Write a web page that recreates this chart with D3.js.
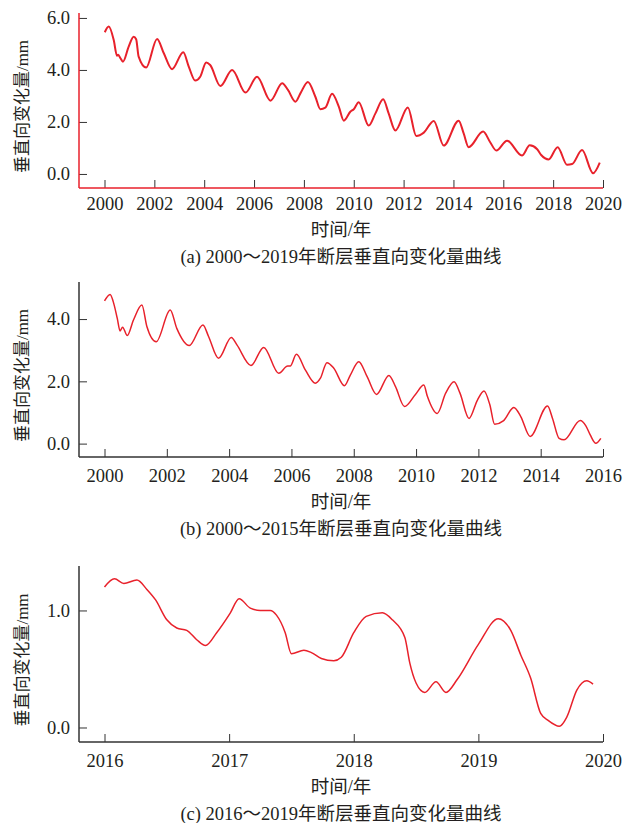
<!DOCTYPE html>
<html>
<head>
<meta charset="utf-8">
<script src="https://cdn.jsdelivr.net/npm/d3@7"></script>
<style>
  body { margin: 0; background: #fff; }
  svg text { font-family: "Liberation Serif", "Noto Sans CJK SC", serif; fill: #231f20; }
</style>
</head>
<body>
<div id="chart"></div>
<script>
// Panel (a) 2000-2019
const aYears = [2000.01, 2000.17, 2000.37, 2000.50, 2000.55, 2000.64, 2000.74, 2000.97, 2001.17, 2001.27, 2001.37, 2001.67,
  2002.11, 2002.38, 2002.71, 2003.16, 2003.38, 2003.64, 2003.84, 2004.08, 2004.24, 2004.65, 2005.12, 2005.66,
  2006.12, 2006.66, 2007.13, 2007.36, 2007.66, 2007.86, 2008.16, 2008.46, 2008.66, 2008.86, 2009.13, 2009.40,
  2009.60, 2009.87, 2010.00, 2010.20, 2010.60, 2010.87, 2011.18, 2011.40, 2011.67, 2012.17, 2012.51, 2012.81,
  2013.21, 2013.61, 2014.21, 2014.41, 2014.61, 2015.19, 2015.48, 2015.72, 2016.15, 2016.75, 2017.06, 2017.36,
  2017.52, 2017.82, 2018.18, 2018.56, 2018.76, 2019.16, 2019.60, 2019.87];
const aValues = [5.45, 5.67, 5.15, 4.55, 4.58, 4.45, 4.32, 4.90, 5.28, 5.18, 4.51, 4.09,
  5.19, 4.64, 4.03, 4.68, 4.13, 3.59, 3.74, 4.29, 4.19, 3.38, 4.00, 3.13,
  3.74, 2.82, 3.49, 3.23, 2.78, 3.10, 3.54, 2.97, 2.49, 2.55, 3.08, 2.59,
  2.05, 2.40, 2.49, 2.76, 1.86, 2.33, 2.87, 2.33, 1.67, 2.56, 1.46, 1.59,
  2.04, 1.09, 2.05, 1.56, 1.03, 1.63, 1.21, 0.90, 1.28, 0.71, 1.10, 0.95,
  0.73, 0.56, 1.03, 0.35, 0.38, 0.92, 0.03, 0.44];
const aXTicks = [2000, 2002, 2004, 2006, 2008, 2010, 2012, 2014, 2016, 2018, 2020];
const aYTicks = [0, 2, 4, 6];

// Panel (b) 2000-2015
const bYears = [2000.00, 2000.18, 2000.28, 2000.41, 2000.50, 2000.58, 2000.73, 2000.93, 2001.20, 2001.36, 2001.66,
  2002.11, 2002.32, 2002.72, 2003.16, 2003.34, 2003.66, 2004.07, 2004.25, 2004.70, 2005.11, 2005.59, 2005.88,
  2005.96, 2006.16, 2006.45, 2006.77, 2006.93, 2007.14, 2007.36, 2007.70, 2007.89, 2008.16, 2008.43, 2008.73,
  2009.13, 2009.34, 2009.63, 2009.98, 2010.25, 2010.36, 2010.68, 2010.95, 2011.22, 2011.41, 2011.70, 2011.97,
  2012.18, 2012.37, 2012.52, 2012.80, 2013.14, 2013.36, 2013.66, 2014.22, 2014.38, 2014.59, 2014.75, 2015.27,
  2015.45, 2015.59, 2015.77, 2015.93];
const bValues = [4.58, 4.79, 4.56, 4.02, 3.62, 3.74, 3.47, 3.97, 4.45, 3.76, 3.27,
  4.29, 3.70, 3.15, 3.81, 3.44, 2.74, 3.41, 3.17, 2.51, 3.09, 2.26, 2.49,
  2.49, 2.87, 2.36, 1.94, 2.10, 2.60, 2.42, 1.86, 2.20, 2.63, 2.15, 1.58,
  2.19, 1.83, 1.19, 1.58, 1.88, 1.53, 0.97, 1.62, 1.99, 1.62, 0.81, 1.40,
  1.69, 1.24, 0.62, 0.73, 1.16, 0.87, 0.23, 1.21, 0.81, 0.17, 0.12, 0.74,
  0.57, 0.28, 0.01, 0.17];
const bXTicks = [2000, 2002, 2004, 2006, 2008, 2010, 2012, 2014, 2016];
const bYTicks = [0, 2, 4];

// Panel (c) 2016-2019
const cYears = [2016.00, 2016.08, 2016.155, 2016.26, 2016.34, 2016.41, 2016.50, 2016.58, 2016.66, 2016.74, 2016.81,
  2016.90, 2017.01, 2017.08, 2017.17, 2017.25, 2017.33, 2017.38, 2017.45, 2017.50, 2017.60, 2017.66, 2017.74,
  2017.84, 2017.90, 2018.00, 2018.10, 2018.23, 2018.31, 2018.41, 2018.45, 2018.50, 2018.57, 2018.66, 2018.74,
  2018.83, 2019.00, 2019.16, 2019.26, 2019.34, 2019.42, 2019.50, 2019.56, 2019.65, 2019.71, 2019.79, 2019.87,
  2019.92];
const cValues = [1.20, 1.27, 1.23, 1.26, 1.18, 1.09, 0.92, 0.85, 0.83, 0.75, 0.70,
  0.81, 0.98, 1.10, 1.02, 1.00, 1.00, 0.96, 0.81, 0.63, 0.66, 0.64, 0.59,
  0.57, 0.60, 0.81, 0.95, 0.98, 0.92, 0.77, 0.55, 0.38, 0.30, 0.39, 0.30,
  0.41, 0.71, 0.93, 0.83, 0.62, 0.42, 0.12, 0.06, 0.01, 0.09, 0.32, 0.40,
  0.37];
const cXTicks = [2016, 2017, 2018, 2019, 2020];
const cYTicks = [0, 1];

const yLabel = "垂直向变化量/mm";
const xLabel = "时间/年";
const captions = ["(a) 2000～2019年断层垂直向变化量曲线", "(b) 2000～2015年断层垂直向变化量曲线", "(c) 2016～2019年断层垂直向变化量曲线"];

const lineColor = "#e8212b";
const fontSize = "18.5px";
const width = 627, height = 823;

const svg = d3.select("#chart").append("svg")
  .attr("width", width)
  .attr("height", height);

// Draw one panel.
function drawPanel(p) {
  const g = svg.append("g");

  const x = d3.scaleLinear().domain(p.xDomain).range([104.5, 603]);
  const y = d3.scaleLinear().domain(p.yDomain).range([p.bottom, p.top]);
  const left = 79;

  // Y axis ticks and labels
  const yAxis = g.append("g")
    .attr("transform", `translate(${left},0)`)
    .call(d3.axisLeft(y).tickValues(p.yTicks).tickFormat(d3.format(".1f"))
      .tickSizeInner(-8).tickSizeOuter(0).tickPadding(9));
  yAxis.select(".domain").remove();
  yAxis.selectAll(".tick line").attr("stroke", "#333");
  yAxis.selectAll("text").style("font-size", fontSize).attr("fill", "#231f20");

  // X axis ticks and labels
  const xAxis = g.append("g")
    .attr("transform", `translate(0,${p.bottom})`)
    .call(d3.axisBottom(x).tickValues(p.xTicks).tickFormat(d3.format("d"))
      .tickSizeInner(-8).tickSizeOuter(0).tickPadding(p.xPad));
  xAxis.select(".domain").remove();
  xAxis.selectAll(".tick line").attr("stroke", "#333");
  xAxis.selectAll("text").style("font-size", fontSize).attr("fill", "#231f20");

  // Axis lines
  g.append("line")
    .attr("x1", left).attr("x2", left)
    .attr("y1", p.top).attr("y2", p.bottom)
    .attr("stroke", p.axisColor).attr("stroke-width", 1.5);
  g.append("line")
    .attr("x1", left).attr("x2", x(p.xDomain[1]))
    .attr("y1", p.bottom).attr("y2", p.bottom)
    .attr("stroke", p.axisColor).attr("stroke-width", 1.5);

  // Data line
  const data = p.years.map((d, i) => ({ t: d, v: p.values[i] }));
  g.append("path")
    .datum(data)
    .attr("fill", "none")
    .attr("stroke", lineColor)
    .attr("stroke-width", p.lineWidth)
    .attr("stroke-linejoin", "round")
    .attr("d", d3.line().x(d => x(d.t)).y(d => y(d.v)).curve(d3.curveMonotoneX));

  // Y axis title
  g.append("text")
    .attr("transform", `translate(22,${(p.top + p.bottom) / 2 + 6}) rotate(-90)`)
    .attr("text-anchor", "middle")
    .attr("dy", "0.35em")
    .style("font-size", "17px")
    .text(yLabel);

  // X axis title and caption
  g.append("text")
    .attr("x", 341)
    .attr("y", p.bottom + p.titleOff)
    .attr("text-anchor", "middle")
    .attr("dy", "0.35em")
    .style("font-size", fontSize)
    .text(xLabel);

  g.append("text")
    .attr("x", 341)
    .attr("y", p.bottom + p.titleOff + 27)
    .attr("text-anchor", "middle")
    .attr("dy", "0.35em")
    .style("font-size", fontSize)
    .text(p.caption);
}

drawPanel({
  years: aYears, values: aValues, xTicks: aXTicks, yTicks: aYTicks,
  xDomain: [2000, 2020], yDomain: [-0.54, 6.19], top: 13, bottom: 188,
  axisColor: lineColor, lineWidth: 2, xPad: 9, titleOff: 42, caption: captions[0]
});

drawPanel({
  years: bYears, values: bValues, xTicks: bXTicks, yTicks: bYTicks,
  xDomain: [2000, 2016], yDomain: [-0.43, 5.19], top: 282, bottom: 457,
  axisColor: "#333", lineWidth: 1.5, xPad: 12, titleOff: 45, caption: captions[1]
});

drawPanel({
  years: cYears, values: cValues, xTicks: cXTicks, yTicks: cYTicks,
  xDomain: [2016, 2020], yDomain: [-0.124, 1.38], top: 566, bottom: 742,
  axisColor: "#333", lineWidth: 1.5, xPad: 12, titleOff: 45, caption: captions[2]
});
</script>
</body>
</html>
